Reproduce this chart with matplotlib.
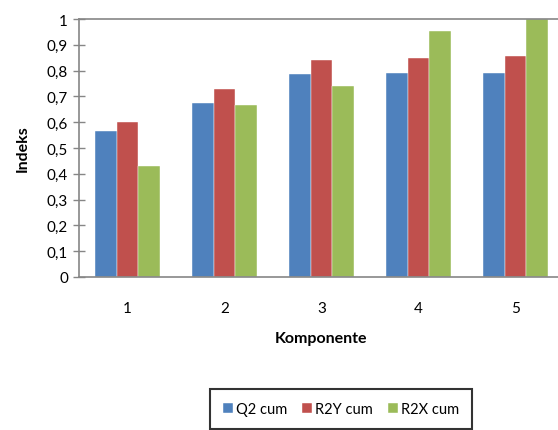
import matplotlib
matplotlib.use("Agg")
import matplotlib.pyplot as plt
import numpy as np

categories = ["1", "2", "3", "4", "5"]
q2_cum = [0.564, 0.674, 0.788, 0.792, 0.792]
r2y_cum = [0.599, 0.730, 0.840, 0.850, 0.855]
r2x_cum = [0.431, 0.665, 0.739, 0.953, 1.0]
series_names = ["Q2 cum", "R2Y cum", "R2X cum"]
colors = ["#4F81BD", "#C0504D", "#9BBB59"]
yticks = [0, 0.1, 0.2, 0.3, 0.4, 0.5, 0.6, 0.7, 0.8, 0.9, 1.0]
ytick_labels = ["0", "0,1", "0,2", "0,3", "0,4", "0,5", "0,6", "0,7", "0,8", "0,9", "1"]

plt.rcParams['font.family'] = ['Lato', 'DejaVu Sans']

W, H = 558, 431
fig = plt.figure(figsize=(W / 100, H / 100), dpi=100)
left, right, top, bottom = 79, 564, 20, 278
ax = fig.add_axes([left / W, 1 - bottom / H, (right - left) / W, (bottom - top) / H])

x = np.arange(1, len(categories) + 1)
bw = 0.22
for i, (vals, name, c) in enumerate(zip([q2_cum, r2y_cum, r2x_cum], series_names, colors)):
    ax.bar(x + (i - 1) * bw, vals, width=bw, color=c, label=name, edgecolor='white', linewidth=0.3)

ax.set_xlim(0.5, 5.5)
ax.set_ylim(0, 1)
ax.set_yticks(yticks)
ax.set_yticklabels(ytick_labels, fontsize=11)
ax.set_xticks(x)
ax.set_xticklabels(categories, fontsize=11)
ax.tick_params(axis='y', direction='inout', length=8, color='#868686', width=1, pad=4)
ax.tick_params(axis='x', length=0, pad=17)
for s in ax.spines.values():
    s.set_color('#868686')
    s.set_linewidth(1.2)

ax.set_xlabel("Komponente", fontsize=11.5, fontweight='bold', labelpad=12)
ax.set_ylabel("Indeks", fontsize=11.5, fontweight='bold', labelpad=12)

leg = fig.legend(loc='upper left', bbox_to_anchor=(210 / W, 1 - 390 / H), ncol=3,
                 frameon=True, fancybox=False, fontsize=10.5, handlelength=0.7,
                 handleheight=0.7, handletextpad=0.2, columnspacing=1.0,
                 borderpad=0.9, borderaxespad=0)
leg.get_frame().set_edgecolor('black')
leg.get_frame().set_linewidth(1.5)

fig.savefig("out.png", dpi=100)
